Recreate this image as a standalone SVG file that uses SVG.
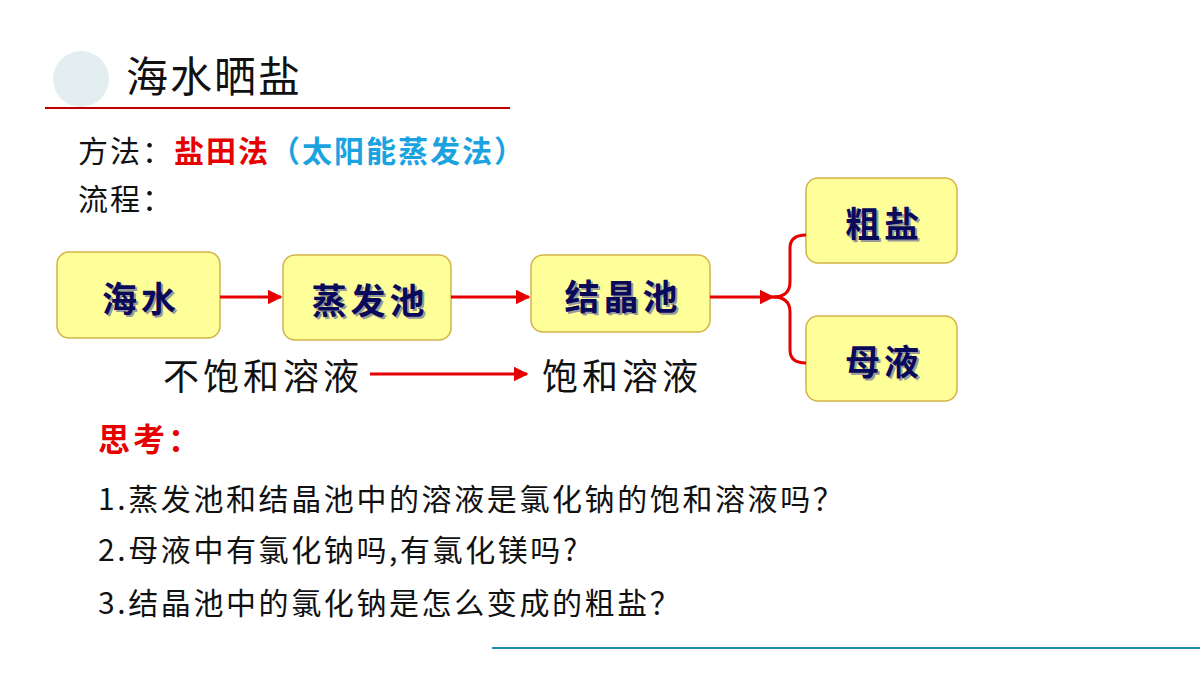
<svg xmlns="http://www.w3.org/2000/svg" width="1200" height="675" viewBox="0 0 1200 675">
<style>
.n{fill:#ffff99;stroke:#d4b24a;stroke-width:1.5}
.nt{font-family:"Noto Sans CJK SC",sans-serif;font-weight:bold;font-size:35px;letter-spacing:4px;fill:#0a0a5a;text-anchor:middle}
.sh{fill:#9a9a9a}
.t{font-family:"Noto Sans CJK SC",sans-serif;font-size:30px;letter-spacing:2px;fill:#111}
.f{font-family:"Noto Sans CJK SC",sans-serif;font-size:36px;letter-spacing:4px;fill:#111}
.q{font-family:"Noto Sans CJK SC",sans-serif;font-size:30px;letter-spacing:2.6px;fill:#111}
.a{stroke:#e60000;stroke-width:3;fill:none}
</style>
<defs><marker id="ah" viewBox="0 0 10 10" refX="9" refY="5" markerWidth="5" markerHeight="5" orient="auto"><path d="M0,0 L10,5 L0,10 z" fill="#e60000"/></marker></defs>
<rect width="1200" height="675" fill="#fff"/>
<circle cx="81" cy="79" r="28" fill="#e3eef0"/>
<line x1="45" y1="108" x2="510" y2="108" stroke="#c00000" stroke-width="2"/>
<line x1="492" y1="648" x2="1200" y2="648" stroke="#1f8fb0" stroke-width="2"/>
<text x="126" y="92" font-family="Noto Sans CJK SC,sans-serif" font-size="42" letter-spacing="2" fill="#111">海水晒盐</text>
<text x="78" y="162" class="t">方法：<tspan fill="#e60000" font-weight="bold">盐田法</tspan><tspan fill="#1aa3e0" font-weight="bold">（太阳能蒸发法）</tspan></text>
<text x="78" y="210" class="t">流程：</text>
<g id="n1"><rect class="n" x="57" y="252" width="163" height="86" rx="12"/><text class="nt sh" x="143" y="314">海水</text><text class="nt" x="141" y="312">海水</text></g>
<g id="n2"><rect class="n" x="283" y="255" width="168" height="85" rx="12"/><text class="nt sh" x="372" y="316">蒸发池</text><text class="nt" x="370" y="314">蒸发池</text></g>
<g id="n3"><rect class="n" x="531" y="255" width="179" height="77" rx="12"/><text class="nt sh" x="625" y="312">结晶池</text><text class="nt" x="623" y="310">结晶池</text></g>
<g id="n4"><rect class="n" x="806" y="178" width="151" height="85" rx="12"/><text class="nt sh" x="886" y="239">粗盐</text><text class="nt" x="884" y="237">粗盐</text></g>
<g id="n5"><rect class="n" x="806" y="316" width="151" height="85" rx="12"/><text class="nt sh" x="886" y="377">母液</text><text class="nt" x="884" y="375">母液</text></g>
<g id="connectors">
<line class="a" x1="220" y1="297" x2="281" y2="297" marker-end="url(#ah)"/>
<line class="a" x1="451" y1="297" x2="529" y2="297" marker-end="url(#ah)"/>
<line class="a" x1="710" y1="297" x2="773" y2="297" marker-end="url(#ah)"/>
<path class="a" d="M773,297 Q790,297 790,282 L790,248 Q790,235 806,235"/>
<path class="a" d="M773,297 Q790,297 790,312 L790,350 Q790,363 806,363"/>
<line class="a" x1="370" y1="374" x2="527" y2="374" marker-end="url(#ah)"/>
</g>
<text x="163" y="390" class="f">不饱和溶液</text>
<text x="542" y="390" class="f">饱和溶液</text>
<text x="98" y="451" font-family="Noto Sans CJK SC,sans-serif" font-size="32" font-weight="bold" letter-spacing="3" fill="#e60000">思考：</text>
<text x="98" y="510" class="q">1.蒸发池和结晶池中的溶液是氯化钠的饱和溶液吗？</text>
<text x="98" y="561" class="q">2.母液中有氯化钠吗,有氯化镁吗?</text>
<text x="98" y="614" class="q">3.结晶池中的氯化钠是怎么变成的粗盐？</text>
</svg>
